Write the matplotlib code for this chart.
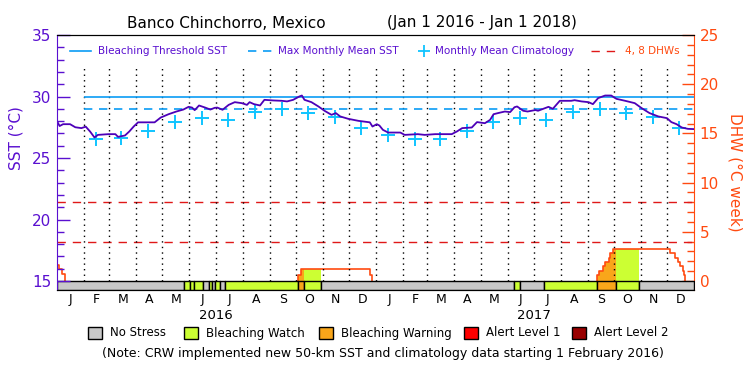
import numpy as np
import matplotlib.pyplot as plt
from matplotlib.lines import Line2D
from matplotlib.patches import Rectangle

# days counted from 1 Jan 2016
sst_day = [0, 3, 7, 15, 21, 28, 33, 38, 43, 47, 59, 67, 70, 78, 83, 88, 93, 112, 119, 128,
           137, 145, 151, 155, 158, 163, 170, 176, 181, 184, 190, 197, 204, 212, 218, 221,
           226, 233, 238, 248, 258, 264, 271, 278, 281, 284, 292, 300, 307, 315, 320, 325,
           334, 346, 359, 362, 367, 370, 374, 380, 394, 399, 414, 422, 434, 453, 459, 465,
           476, 482, 491, 497, 501, 506, 514, 520, 525, 528, 535, 540, 549, 552, 558, 564,
           569, 577, 590, 594, 602, 610, 615, 621, 629, 636, 642, 652, 663, 671, 680, 690,
           700, 705, 711, 717, 724, 731]
sst_val = [28.0, 27.6, 27.75, 27.75, 27.5, 27.43, 27.55, 27.15, 26.67, 26.88, 26.94, 26.94,
           26.72, 26.83, 27.16, 27.56, 27.9, 27.9, 28.29, 28.56, 28.78, 28.94, 29.16, 29.1,
           28.89, 29.27, 29.1, 28.94, 29.08, 29.1, 28.92, 29.32, 29.54, 29.46, 29.32, 29.54,
           29.38, 29.27, 29.73, 29.68, 29.65, 29.6, 29.73, 30.0, 30.08, 29.73, 29.54, 29.19,
           28.84, 28.51, 28.65, 28.38, 28.19, 28.02, 27.9, 27.56, 27.75, 27.64, 27.29, 27.07,
           27.07, 26.88, 26.94, 26.88, 26.94, 26.94, 27.16, 27.43, 27.48, 27.92, 27.83, 28.1,
           28.56, 28.65, 28.78, 28.73, 29.13, 29.19, 28.84, 28.78, 28.9, 28.84, 29.0, 29.16,
           29.0, 29.65, 29.65, 29.7, 29.6, 29.54, 29.38, 29.87, 30.08, 30.08, 29.81, 29.65,
           29.46, 29.05, 28.65, 28.38, 28.24, 27.92, 27.75, 27.48, 27.37, 27.35]

clim_month = ['2016-02', '2016-03', '2016-04', '2016-05', '2016-06', '2016-07', '2016-08',
              '2016-09', '2016-10', '2016-11', '2016-12', '2017-01', '2017-02', '2017-03',
              '2017-04', '2017-05', '2017-06', '2017-07', '2017-08', '2017-09', '2017-10',
              '2017-11', '2017-12']
clim_val = [26.56, 26.61, 27.16, 27.89, 28.24, 28.1, 28.7, 28.97, 28.65, 28.32, 27.48,
            26.88, 26.56, 26.56, 27.16, 27.89, 28.29, 28.1, 28.7, 28.97, 28.65, 28.32, 27.48]

mmm = 29.0
threshold = 30.0
clim_start = 31  # 1 Feb 2016

dhw_day = [0, 2, 6, 9, 276, 280, 359, 362, 620, 622, 626, 629, 633, 635, 638, 704, 709,
           713, 715, 718, 720, 721, 731]
dhw_val = [1.6, 1.2, 0.7, 0, 0.6, 1.2, 0.6, 0, 0.6, 1.05, 1.5, 1.95, 2.35, 2.8, 3.3, 2.8,
           2.35, 1.95, 1.5, 1.05, 0.6, 0, 0]

# stress level per period: 0 no stress, 1 watch, 2 warning, 3 alert 1, 4 alert 2
stress_start = [0, 146, 153, 157, 167, 174, 178, 181, 187, 193, 276, 283, 303, 525, 531,
                559, 620, 641, 668]
stress_end = [146, 153, 157, 167, 174, 178, 181, 187, 193, 276, 283, 303, 525, 531, 559,
              620, 641, 668, 731]
stress_level = [0, 1, 1, 1, 0, 1, 0, 1, 0, 1, 2, 1, 0, 1, 0, 1, 2, 1, 0]

stress_names = ['No Stress', 'Bleaching Watch', 'Bleaching Warning', 'Alert Level 1',
                'Alert Level 2']
stress_colors = ['#c8c8c8', '#ccff33', '#f9a61a', '#ff0000', '#990000']
month_letters = ['J', 'F', 'M', 'A', 'M', 'J', 'J', 'A', 'S', 'O', 'N', 'D'] * 2

purple = '#5a10d0'
sst_col = '#4d00b8'
blue = '#0a9cf5'
cyan = '#10c4ff'
orange = '#ff4a10'
red = '#e01818'

W, H = 750, 375
fig = plt.figure(figsize=(7.5, 3.75), dpi=100)
ax = fig.add_axes([57 / W, 1 - 290 / H, (694 - 57) / W, (290 - 35) / H])
ax2 = ax.twinx()
ax.set_zorder(ax2.get_zorder() + 1)
ax.patch.set_visible(False)

ybot = 14.27
ax.set_xlim(0, 731)
ax.set_ylim(ybot, 35)
ax2.set_ylim((ybot - 15) * 1.25, 25)

t0 = np.datetime64('2016-01-01')
months = np.arange('2016-01', '2018-02', dtype='datetime64[M]')
mstart = (months.astype('datetime64[D]') - t0).astype(int)
mmid = (mstart[:-1] + mstart[1:]) / 2
clim_day = (np.array(clim_month, dtype='datetime64[M]').astype('datetime64[D]') - t0).astype(int) + 14

# month grid
ax.vlines(mstart[1:-1], 15, 32.6, colors='k', linestyles=(0, (1, 3)), lw=1)

# DHW lines and fills
ax2.hlines([4, 8], 0, 731, colors=red, linestyles=(0, (6, 5)), lw=1)
dd = np.array(dhw_day, dtype=float)
dv = np.array(dhw_val)
for s, e, lev in zip(stress_start, stress_end, stress_level):
    if lev == 0:
        continue
    inside = dd[(dd > s) & (dd < e)]
    xs = np.concatenate([[s], inside, [e]])
    idx = np.searchsorted(dd, xs, side='right') - 1
    ax2.fill_between(xs, 0, dv[idx], step='post', color=stress_colors[lev], lw=0)

# step outline of DHW, leaving out the flat stretches at zero
px, py = [], []
for i in range(len(dd) - 1):
    if dv[i] == 0:
        px += [dd[i], np.nan, dd[i + 1]]
        py += [0, np.nan, 0]
    else:
        px += [dd[i], dd[i + 1]]
        py += [dv[i], dv[i]]
ax2.plot(px, py, color=orange, lw=1.2)

# SST panel
ax.hlines(threshold, clim_start, 731, colors=blue, lw=1.2)
ax.hlines(mmm, clim_start, 731, colors=blue, linestyles=(0, (5, 4)), lw=1.2)
ax.plot(clim_day, clim_val, '+', color=cyan, ms=10, mew=1.4)
ax.plot(sst_day, sst_val, color=sst_col, lw=1.3)

# stress bar
for s, e, lev in zip(stress_start, stress_end, stress_level):
    ax.broken_barh([(s, e - s)], (ybot, 15 - ybot), facecolors=stress_colors[lev],
                   edgecolors='k', linewidth=1)

# axes styling
ax.set_xticks([])
ax.set_yticks([15, 20, 25, 30, 35])
ax.set_yticks(np.arange(15, 36), minor=True)
ax.tick_params(axis='y', which='major', direction='in', length=9, width=1,
               color=purple, labelcolor=purple, labelsize=11, pad=4)
ax.tick_params(axis='y', which='minor', direction='in', length=5, width=1, color=purple)
ax2.set_yticks(range(0, 26, 5))
ax2.set_yticks(range(0, 26), minor=True)
ax2.tick_params(axis='y', which='major', direction='in', length=9, width=1,
                color=orange, labelcolor=orange, labelsize=11, pad=4)
ax2.tick_params(axis='y', which='minor', direction='in', length=5, width=1, color=orange)
ax.spines['left'].set_color(purple)
ax.spines['right'].set_visible(False)
ax2.spines['left'].set_visible(False)
ax2.spines['right'].set_color(orange)
for a in (ax, ax2):
    a.spines['top'].set_color('k')
    a.spines['bottom'].set_color('k')

def fx(px):
    return px / W

def fy(py):
    return 1 - py / H

# month and year labels
for m, lab in zip(mmid, month_letters):
    ax.text(m, -0.012, lab, transform=ax.get_xaxis_transform(), ha='center', va='top',
            fontsize=9)
for yr, m in zip(['2016', '2017'], [mstart[6], mstart[18]]):
    ax.text(m, -0.075, yr, transform=ax.get_xaxis_transform(), ha='center', va='top',
            fontsize=9.5)

# titles and axis labels
fig.text(fx(127), fy(23), 'Banco Chinchorro, Mexico', fontsize=11, va='center')
fig.text(fx(387), fy(23), '(Jan 1 2016 - Jan 1 2018)', fontsize=11, va='center')
fig.text(fx(16), fy(138), 'SST (°C)', rotation=90, color=purple, fontsize=11,
         ha='center', va='center')
fig.text(fx(735), fy(172), 'DHW (°C week)', rotation=270, color=orange, fontsize=11,
         ha='center', va='center')

# top legend
ly = fy(51)
fig.add_artist(Line2D([fx(70), fx(91)], [ly, ly], color=blue, lw=1.2))
fig.text(fx(98), ly, 'Bleaching Threshold SST', color=purple, fontsize=7.5, va='center')
fig.add_artist(Line2D([fx(248), fx(272)], [ly, ly], color=blue, lw=1.2,
                      linestyle=(0, (5, 4))))
fig.text(fx(278), ly, 'Max Monthly Mean SST', color=purple, fontsize=7.5, va='center')
fig.add_artist(Line2D([fx(424)], [ly], color=cyan, marker='+', ms=8, mew=1.3))
fig.text(fx(435), ly, 'Monthly Mean Climatology', color=purple, fontsize=7.5, va='center')
fig.add_artist(Line2D([fx(591), fx(618)], [ly, ly], color=red, lw=1,
                      linestyle=(0, (6, 5))))
fig.text(fx(625), ly, '4, 8 DHWs', color=orange, fontsize=7.5, va='center')

# stress legend
sq_x = [88, 184, 319, 464, 572]
for x0, name, col in zip(sq_x, stress_names, stress_colors):
    fig.add_artist(Rectangle((fx(x0), fy(339)), 14 / W, 12 / H, fc=col, ec='k', lw=1))
    fig.text(fx(x0 + 22), fy(333), name, fontsize=8.5, va='center')
fig.text(fx(383), fy(354),
         '(Note: CRW implemented new 50-km SST and climatology data starting 1 February 2016)',
         fontsize=9, ha='center', va='center')

fig.savefig('out.png', dpi=100)
